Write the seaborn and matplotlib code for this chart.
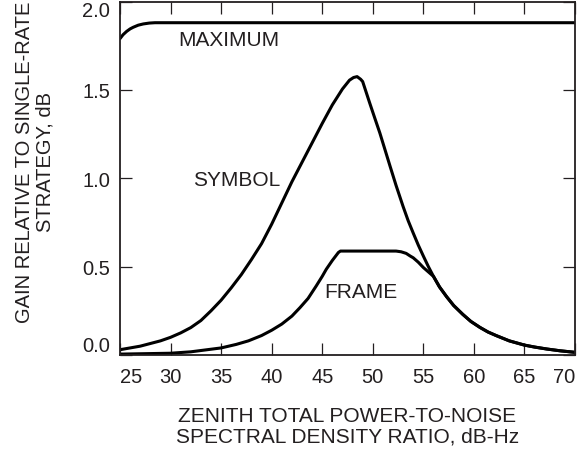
import numpy as np
import pandas as pd
import matplotlib
matplotlib.use('Agg')
import matplotlib.pyplot as plt
import seaborn as sns

# curves (x: C/N0 dB-Hz, y: gain dB)
max_x = [25, 25.3, 25.66, 26, 26.3, 26.8, 27.3, 27.9, 28.46, 70]
max_y = [1.79, 1.812, 1.831, 1.845, 1.854, 1.866, 1.873, 1.878, 1.88, 1.88]

symbol_x = [25, 26, 27, 28, 29, 30, 31, 32, 33, 34, 35, 36, 37, 38, 39, 40, 41, 42, 43,
            44, 45, 46, 47, 47.7, 48.1, 48.45, 48.8, 49.0, 49.7, 50.2, 50.7, 51.7, 52.3,
            53.0, 53.5, 54.0, 54.5, 55.0, 55.5, 56.0, 56.6, 57.3, 58.0, 58.9, 59.7, 60.6,
            61.4, 62.2, 63.5, 65, 66, 67.2, 68.5, 70]
symbol_y = [0.03, 0.04, 0.05, 0.065, 0.08, 0.10, 0.125, 0.155, 0.195, 0.25, 0.31, 0.38,
            0.455, 0.54, 0.63, 0.74, 0.86, 0.98, 1.09, 1.2, 1.31, 1.415, 1.505, 1.555,
            1.57, 1.575, 1.56, 1.547, 1.425, 1.34, 1.256, 1.07, 0.96, 0.84, 0.76, 0.69,
            0.622, 0.56, 0.50, 0.445, 0.385, 0.33, 0.28, 0.23, 0.19, 0.156, 0.13, 0.11,
            0.08, 0.056, 0.045, 0.034, 0.024, 0.015]

frame_x = [25, 30, 32, 35, 36.5, 37.7, 39, 40, 41, 42, 42.8, 43.6, 44.4, 45, 45.4, 46,
           46.6, 46.8, 52.3, 52.8, 53.3, 53.7, 54.0, 54.5, 55.0, 55.5, 56.0, 56.6, 57.3,
           58.0, 58.9, 59.7, 60.6, 61.4, 62.2, 63.5, 65, 66, 67.2, 68.5, 70]
frame_y = [0.005, 0.01, 0.018, 0.04, 0.06, 0.08, 0.11, 0.14, 0.175, 0.22, 0.268, 0.32,
           0.39, 0.445, 0.485, 0.535, 0.58, 0.588, 0.588, 0.584, 0.575, 0.56, 0.55,
           0.525, 0.495, 0.47, 0.445, 0.385, 0.33, 0.28, 0.23, 0.19, 0.156, 0.13, 0.11,
           0.08, 0.056, 0.045, 0.034, 0.024, 0.015]

labels = ['MAXIMUM', 'SYMBOL', 'FRAME']
label_x = [35.8, 36.5, 48.8]
label_y = [1.785, 0.995, 0.358]

x_ticks = [25, 30, 35, 40, 45, 50, 55, 60, 65, 70]
y_ticks = [0.0, 0.5, 1.0, 1.5, 2.0]

sns.set_style('ticks')
plt.rcParams['font.family'] = ['Liberation Sans', 'DejaVu Sans']

fig = plt.figure(figsize=(5.8, 4.56), dpi=100)
ax = fig.add_axes([120 / 580, 1 - 356 / 456, 455 / 580, 353.5 / 456])

for xs, ys in [(max_x, max_y), (symbol_x, symbol_y), (frame_x, frame_y)]:
    df = pd.DataFrame({'x': xs, 'y': ys})
    sns.lineplot(data=df, x='x', y='y', ax=ax, color='black', linewidth=2.2,
                 sort=False, estimator=None, solid_joinstyle='round')

for txt, tx, ty in zip(labels, label_x, label_y):
    ax.text(tx, ty, txt, fontsize=15, ha='center', va='center', color='#231f20')

ax.set_xlim(25, 70)
ax.set_ylim(0, 2.0)
ax.set_xticks(x_ticks)
ax.set_yticks(y_ticks)
ax.set_xticklabels([str(v) for v in x_ticks])
ax.set_yticklabels([f'{v:.1f}' for v in y_ticks])
ax.tick_params(direction='in', length=8.6, width=0.9, top=True, right=True,
               labelsize=14.5, colors='#231f20')
ax.tick_params(axis='x', pad=9)
ax.tick_params(axis='y', pad=7)
for sp in ax.spines.values():
    sp.set_linewidth(1.3)
    sp.set_color('#231f20')

xl = ax.get_xticklabels()
xl[0].set_ha('left')
xl[-1].set_ha('right')
yl = ax.get_yticklabels()
yl[0].set_va('bottom')
yl[-1].set_va('top')

ax.set_xlabel('ZENITH TOTAL POWER-TO-NOISE\nSPECTRAL DENSITY RATIO, dB-Hz',
              fontsize=15, linespacing=1.1, labelpad=14, color='#231f20')
ax.set_ylabel('GAIN RELATIVE TO SINGLE-RATE\nSTRATEGY, dB',
              fontsize=14.5, linespacing=1.1, color='#231f20')
ax.yaxis.set_label_coords(-0.145, 0.548)

fig.savefig('out.png', dpi=100)
